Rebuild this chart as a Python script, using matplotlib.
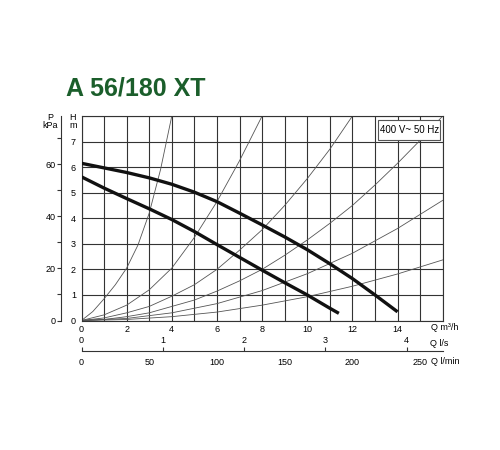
import numpy as np
import matplotlib.pyplot as plt
from matplotlib.patches import Rectangle

plt.rcParams['font.family'] = ['Liberation Sans', 'DejaVu Sans']

# pump curves (Q in m3/h, H in m)
q_high = [0, 1, 2, 3, 4, 5, 6, 7, 8, 9, 10, 11, 12, 13, 14]
h_high = [6.15, 5.97, 5.79, 5.58, 5.33, 5.02, 4.65, 4.2, 3.74, 3.27, 2.77, 2.22, 1.64, 1.0, 0.34]
q_low = [0, 1, 2, 3, 4, 5, 6, 7, 8, 9, 10, 11, 11.4]
h_low = [5.62, 5.18, 4.77, 4.37, 3.95, 3.48, 2.97, 2.47, 1.97, 1.48, 1.0, 0.48, 0.28]

# system curves
sys_q_a = [0, 0.5, 1, 1.5, 2, 2.5, 3, 3.5, 4]
sys_h_a = [0, 0.35, 0.85, 1.4, 2.05, 2.95, 4.2, 5.9, 8.0]
sys_q_b = [0, 1, 2, 3, 4, 5, 6, 7, 8]
sys_h_b = [0, 0.22, 0.6, 1.2, 2.05, 3.25, 4.65, 6.25, 8.0]
sys_q_c = [0, 1, 2, 3, 4, 5, 6, 7, 8, 9, 10, 11, 12]
sys_h_c = [0, 0.1, 0.3, 0.55, 0.95, 1.4, 2.0, 2.75, 3.55, 4.5, 5.55, 6.7, 8.0]
sys_q_d = [0, 1, 2, 3, 4, 5, 6, 7, 8, 9, 10, 11, 12, 13, 14, 15, 16]
sys_h_d = [0, 0.04, 0.15, 0.3, 0.55, 0.8, 1.15, 1.55, 2.0, 2.55, 3.15, 3.8, 4.5, 5.3, 6.15, 7.05, 8.0]
sys_q_e = [0, 2, 4, 6, 8, 10, 12, 14, 16]
sys_h_e = [0, 0.08, 0.3, 0.66, 1.17, 1.83, 2.63, 3.6, 4.7]
sys_q_f = [0, 2, 4, 6, 8, 10, 12, 14, 16]
sys_h_f = [0, 0.04, 0.15, 0.33, 0.6, 0.93, 1.34, 1.82, 2.37]

q_ticks = list(range(17))
h_ticks = list(range(9))
p_ticks = [0, 20, 40, 60]
p_minor = [10, 30, 50, 70]
ls_ticks = [0, 1, 2, 3, 4]
lmin_ticks = [0, 50, 100, 150, 200, 250]

grid_col = '#333333'
W, H = 500, 450
left, bottom = 81.5 / W, (H - 320.5) / H
width, height = (442.7 - 81.5) / W, (320.5 - 116) / H

fig = plt.figure(figsize=(5, 4.5), dpi=100)
ax = fig.add_axes([left, bottom, width, height])
ax.set_xlim(0, 16)
ax.set_ylim(0, 8)
ax.set_xticks(q_ticks)
ax.set_yticks(h_ticks)
ax.set_xticklabels([str(v) if v % 2 == 0 and v < 16 else '' for v in q_ticks])
ax.set_yticklabels([str(v) if v < 8 else '' for v in h_ticks])
ax.grid(True, color=grid_col, lw=0.8)
ax.set_axisbelow(True)
ax.tick_params(axis='x', length=0, labelsize=6.5, pad=3)
ax.tick_params(axis='y', length=0, labelsize=6.5, pad=4)
for s in ax.spines.values():
    s.set_color(grid_col)
    s.set_linewidth(0.8)

sys_curves = [(sys_q_a, sys_h_a), (sys_q_b, sys_h_b), (sys_q_c, sys_h_c),
              (sys_q_d, sys_h_d), (sys_q_e, sys_h_e), (sys_q_f, sys_h_f)]
for q, h in sys_curves:
    ax.plot(q, h, color='#555555', lw=0.6, zorder=2, solid_joinstyle='round')

for q, h in [(q_high, h_high), (q_low, h_low)]:
    ax.plot(q, h, color='#111111', lw=2.4, zorder=3,
            solid_capstyle='butt', solid_joinstyle='round')

# voltage box
ax.add_patch(Rectangle((13.15, 7.06), 2.75, 0.79, facecolor='white',
                       edgecolor='#555555', lw=0.8, zorder=5))
ax.text(14.52, 7.46, '400 V~ 50 Hz', fontsize=7, ha='center', va='center', zorder=6)

# pressure axis
axp = fig.add_axes([61 / W, bottom, 1e-5, height])
axp.set_ylim(0, 8 * 9.81)
axp.set_yticks(p_ticks)
axp.set_yticks(p_minor, minor=True)
axp.set_xticks([])
axp.patch.set_visible(False)
for side in ['right', 'top', 'bottom']:
    axp.spines[side].set_visible(False)
axp.spines['left'].set_color(grid_col)
axp.spines['left'].set_linewidth(0.8)
axp.tick_params(axis='y', which='both', length=3, width=0.8, color=grid_col,
                labelsize=6.5, pad=1)

# flow axes in l/s and l/min
y_line = (H - 351) / H
axs = fig.add_axes([left, y_line, width, 1e-5])
axs.set_xlim(0, 16 / 3.6)
axs.set_xticks(ls_ticks)
axs.xaxis.set_ticks_position('top')
axs.set_yticks([])
axs.patch.set_visible(False)
for side in ['right', 'left', 'bottom']:
    axs.spines[side].set_visible(False)
axs.spines['top'].set_color(grid_col)
axs.spines['top'].set_linewidth(0.8)
axs.tick_params(axis='x', length=3, width=0.8, color=grid_col, labelsize=6.5, pad=1)

axm = fig.add_axes([left, y_line, width, 1e-5])
axm.set_xlim(0, 16 * 1000 / 60)
axm.set_xticks(lmin_ticks)
axm.set_yticks([])
axm.patch.set_visible(False)
for s in axm.spines.values():
    s.set_visible(False)
axm.tick_params(axis='x', length=0, labelsize=6.5, pad=5)

# axis captions
fs = 6.5
fig.text(431 / W, (H - 328) / H, 'Q m³/h', fontsize=fs, va='center')
fig.text(430 / W, (H - 343) / H, 'Q l/s', fontsize=fs, va='center')
fig.text(431 / W, (H - 361) / H, 'Q l/min', fontsize=fs, va='center')
fig.text(50 / W, (H - 117) / H, 'P', fontsize=fs, ha='center', va='center')
fig.text(50 / W, (H - 125) / H, 'kPa', fontsize=fs, ha='center', va='center')
fig.text(72.7 / W, (H - 117) / H, 'H', fontsize=fs, ha='center', va='center')
fig.text(72.7 / W, (H - 126) / H, 'm', fontsize=fs, ha='center', va='center')

fig.text(66 / W, (H - 96) / H, 'A 56/180 XT', fontsize=18, fontweight='bold',
         color='#1b5e2b', va='baseline')

fig.savefig('out.png', dpi=100)
